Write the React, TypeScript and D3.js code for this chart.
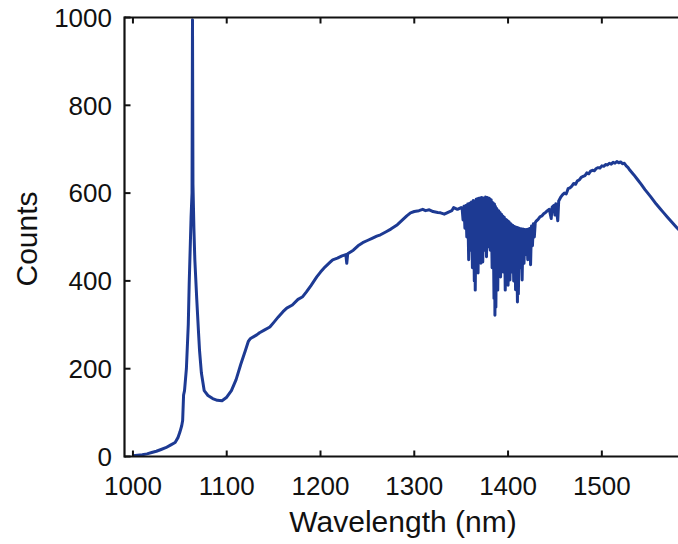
import React from "react";
import * as d3 from "d3";

// Spectrum data (wavelength in nm, counts)
const wavelengths: number[] = [
  1000, 1005, 1010, 1015, 1020, 1025, 1030, 1035, 1040, 1045, 1048, 1050, 1052, 1053, 1054, 1055, 1057, 1059, 1060, 1061, 1062, 1063, 1063.5, 1064, 1065, 1066, 1068, 1070, 1071, 1073, 1076, 1080, 1085, 1090, 1095, 1100, 1105, 1110, 1115, 1120, 1123, 1125, 1128, 1132, 1135, 1140, 1146, 1150, 1155, 1160, 1164, 1170, 1176, 1181, 1185, 1190, 1196, 1200, 1205, 1210, 1213, 1218, 1223, 1227, 1228, 1229, 1235, 1240, 1245, 1250, 1255, 1260, 1264, 1270, 1275, 1282, 1288, 1292, 1296, 1300, 1305, 1309, 1312, 1316, 1320, 1325, 1328, 1332, 1336, 1340, 1342, 1346, 1350,
  1351, 1352, 1353, 1354, 1355, 1356, 1357, 1358, 1359, 1360, 1361, 1362, 1363, 1364, 1364.5, 1365, 1366, 1367, 1367.5, 1368, 1369, 1370, 1370.5, 1371, 1372, 1373, 1374, 1375, 1376, 1377, 1378, 1379, 1380, 1381, 1382, 1383, 1384, 1385, 1385.5, 1386, 1386.5, 1387, 1388, 1389, 1390, 1391, 1391.5, 1392, 1393, 1394, 1394.5, 1395, 1396, 1397, 1398, 1399, 1399.5, 1400, 1401, 1402, 1403, 1404, 1405, 1406, 1407, 1408, 1409, 1410, 1410.5, 1411, 1412, 1413, 1414, 1415, 1416, 1417, 1418, 1419, 1420, 1421, 1422, 1423, 1423.5, 1424, 1425, 1426, 1427, 1428, 1429, 1430,
  1432, 1434, 1436, 1438, 1440, 1442, 1444, 1446, 1447, 1449, 1450, 1451, 1453, 1454, 1456, 1458, 1460, 1462, 1464, 1466, 1468, 1470, 1472, 1474, 1476, 1478, 1480, 1482, 1484, 1486, 1488, 1490, 1492, 1494, 1496, 1498, 1500, 1502, 1504, 1506, 1508, 1510, 1512, 1514, 1516, 1518, 1520, 1522, 1524, 1526, 1528, 1530, 1534, 1538, 1542, 1546, 1552, 1558, 1562, 1566, 1570, 1575, 1580, 1585,
];

const counts: number[] = [
  2, 3, 4, 6, 9, 12, 16, 20, 26, 32, 43, 55, 70, 82, 140, 150, 200, 300, 395, 470, 546, 600, 995, 620, 520, 448, 360, 280, 242, 190, 150, 139, 132, 128, 127, 135, 150, 175, 210, 242, 262, 268, 272, 277, 282, 288, 295, 305, 318, 330, 338, 345, 358, 364, 375, 390, 409, 420, 432, 442, 448, 452, 457, 460, 440, 462, 470, 480, 487, 492, 497, 502, 505, 512, 518, 528, 540, 548, 555, 558, 560, 563, 560, 562, 558, 556, 555, 552, 556, 560, 567, 563, 567,
  566, 539, 570, 520, 572, 500, 575, 448, 577, 470, 580, 430, 583, 400, 582, 379, 586, 440, 587, 418, 588, 460, 589, 440, 590, 443, 589, 470, 591, 455, 590, 478, 588, 470, 585, 430, 578, 360, 575, 322, 570, 340, 565, 379, 560, 420, 556, 409, 552, 440, 548, 420, 545, 379, 540, 420, 537, 390, 535, 402, 530, 420, 527, 400, 524, 380, 522, 352, 521, 370, 520, 430, 519, 402, 518, 440, 517, 460, 517, 448, 518, 470, 520, 437, 525, 480, 530, 500, 533, 536,
  540, 546, 548, 553, 556, 560, 563, 542, 568, 572, 550, 576, 537, 582, 590, 596, 600, 598, 610, 612, 616, 622, 620, 628, 630, 636, 638, 640, 646, 644, 650, 652, 651, 656, 658, 657, 662, 661, 665, 664, 668, 666, 670, 668, 672, 669, 671, 667, 668, 662, 658, 652, 642, 631, 620, 608, 592, 575, 565, 555, 545, 533, 521, 510,
];

const xTicks: number[] = [1000, 1100, 1200, 1300, 1400, 1500];
const yTicks: number[] = [0, 200, 400, 600, 800, 1000];

const W = 678;
const H = 544;
const left = 124.5;
const right = 678;
const top = 17.5;
const bottom = 456.5;

export default function App() {
  const x = d3.scaleLinear().domain([991, 1000 + (right - 133) / 0.9377]).range([left, right]);
  const y = d3.scaleLinear().domain([0, 1000]).range([bottom, top]);

  const pts: [number, number][] = wavelengths.map((w, i) => [w, counts[i]]);
  const line = d3
    .line<[number, number]>()
    .x((d) => x(d[0]))
    .y((d) => y(d[1]));

  const font = "Arial, 'Liberation Sans', Helvetica, sans-serif";
  const tickLen = 6;

  return (
    <svg
      width={W}
      height={H}
      style={{ position: "absolute", left: 0, top: 0, background: "#fff" }}
      fontFamily={font}
    >
      <defs>
        <clipPath id="plotclip">
          <rect x={left} y={top - 3} width={right - left} height={bottom - top + 3} />
        </clipPath>
      </defs>
      <rect x={0} y={0} width={W} height={H} fill="#fff" />

      {/* data line */}
      <path
        d={line(pts) || ""}
        fill="none"
        stroke="#1d3a93"
        strokeWidth={3}
        strokeLinejoin="round"
        clipPath="url(#plotclip)"
      />

      {/* frame */}
      <line x1={left} x2={right} y1={bottom} y2={bottom} stroke="#111" strokeWidth={2.2} />
      <line x1={left} x2={right} y1={top} y2={top} stroke="#111" strokeWidth={2.2} />
      <line x1={left} x2={left} y1={top - 1} y2={bottom + 1} stroke="#111" strokeWidth={2.2} />

      {/* x ticks */}
      {xTicks.map((t) => (
        <g key={"x" + t}>
          <line x1={x(t)} x2={x(t)} y1={bottom} y2={bottom - tickLen} stroke="#111" strokeWidth={2} />
          <line x1={x(t)} x2={x(t)} y1={top} y2={top + tickLen} stroke="#111" strokeWidth={2} />
          <text x={x(t)} y={495} textAnchor="middle" fontSize={26} fill="#111">
            {t}
          </text>
        </g>
      ))}

      {/* y ticks */}
      {yTicks.map((t) => (
        <g key={"y" + t}>
          <line x1={left} x2={left + tickLen} y1={y(t)} y2={y(t)} stroke="#111" strokeWidth={2} />
          <text x={112} y={y(t)} dy="0.36em" textAnchor="end" fontSize={26} fill="#111">
            {t}
          </text>
        </g>
      ))}

      {/* axis titles */}
      <text x={403} y={532} textAnchor="middle" fontSize={30} fill="#111">
        Wavelength (nm)
      </text>
      <text
        transform="translate(37,239) rotate(-90)"
        textAnchor="middle"
        fontSize={30}
        fill="#111"
      >
        Counts
      </text>
    </svg>
  );
}
